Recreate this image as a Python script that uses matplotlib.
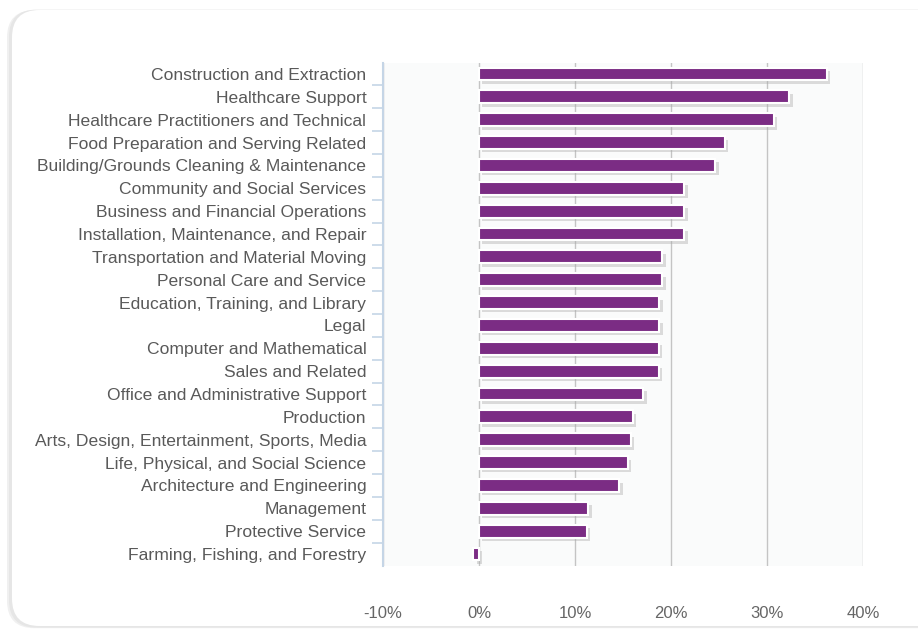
import numpy as np
import matplotlib
matplotlib.use('Agg')
import matplotlib.pyplot as plt
from matplotlib.patches import FancyBboxPatch
import matplotlib.patheffects as pe
from matplotlib.ticker import FixedLocator

categories = [
    'Construction and Extraction',
    'Healthcare Support',
    'Healthcare Practitioners and Technical',
    'Food Preparation and Serving Related',
    'Building/Grounds Cleaning & Maintenance',
    'Community and Social Services',
    'Business and Financial Operations',
    'Installation, Maintenance, and Repair',
    'Transportation and Material Moving',
    'Personal Care and Service',
    'Education, Training, and Library',
    'Legal',
    'Computer and Mathematical',
    'Sales and Related',
    'Office and Administrative Support',
    'Production',
    'Arts, Design, Entertainment, Sports, Media',
    'Life, Physical, and Social Science',
    'Architecture and Engineering',
    'Management',
    'Protective Service',
    'Farming, Fishing, and Forestry',
]
values = [36.2, 32.3, 30.7, 25.6, 24.6, 21.4, 21.4, 21.4, 19.1, 19.1, 18.8,
          18.8, 18.7, 18.7, 17.1, 16.0, 15.8, 15.5, 14.6, 11.4, 11.2, -0.6]
x_ticks = [-10, 0, 10, 20, 30, 40]
x_labels = ['-10%', '0%', '10%', '20%', '30%', '40%']

plt.rcParams['font.family'] = ['Liberation Sans', 'DejaVu Sans']

fig = plt.figure(figsize=(9.18, 6.32), dpi=100)
W, H = 918, 632

# card with soft shadow
for off, col in [(4, '#f0f0f0'), (2, '#e6e6e6')]:
    sh = FancyBboxPatch(((11 - off) / W, (5 - off * 0.3) / H), 960 / W, 618 / H,
                        boxstyle='round,pad=0,rounding_size=0.03',
                        transform=fig.transFigure, facecolor=col, edgecolor='none',
                        mutation_aspect=W / H, zorder=0)
    fig.patches.append(sh)
card = FancyBboxPatch((12 / W, 6 / H), 960 / W, 616 / H,
                      boxstyle='round,pad=0,rounding_size=0.03',
                      transform=fig.transFigure, facecolor='white', edgecolor='none',
                      mutation_aspect=W / H, zorder=1)
fig.patches.append(card)

ax = fig.add_axes([383 / W, (H - 565.5) / H, (863 - 383) / W, (565.5 - 62.5) / H])
ax.set_zorder(2)
ax.set_facecolor('#fafbfb')

y = np.arange(len(categories))
bars = ax.barh(y, values, height=0.56, color='#7b2c84', edgecolor='white',
               linewidth=1.5, zorder=3)
for b in bars:
    b.set_path_effects([pe.SimplePatchShadow(offset=(2.5, -2.5), shadow_rgbFace='#aaaaaa', alpha=0.4),
                        pe.Normal()])

ax.set_xlim(-10, 40)
ax.set_ylim(len(categories) - 0.5, -0.5)
ax.set_xticks(x_ticks)
ax.set_xticklabels(x_labels)
ax.grid(axis='x', color='#c4c4c4', linewidth=1.0, zorder=1)
ax.set_axisbelow(True)

ax.set_yticks(y)
ax.set_yticklabels(categories)
ax.yaxis.set_minor_locator(FixedLocator(np.arange(-0.5, len(categories) - 0.5, 1.0)[1:]))
ax.tick_params(axis='y', which='major', length=0, pad=12, labelsize=12.6, labelcolor='#595959')
ax.tick_params(axis='y', which='minor', length=8, width=1.2, color='#c5d5e6', direction='out')
ax.tick_params(axis='x', length=0, pad=29, labelsize=12, labelcolor='#666666')

for s in ['top', 'right', 'bottom']:
    ax.spines[s].set_visible(False)
ax.spines['left'].set_color('#c5d5e6')
ax.spines['left'].set_linewidth(1.5)

fig.savefig('out.png', dpi=100)
